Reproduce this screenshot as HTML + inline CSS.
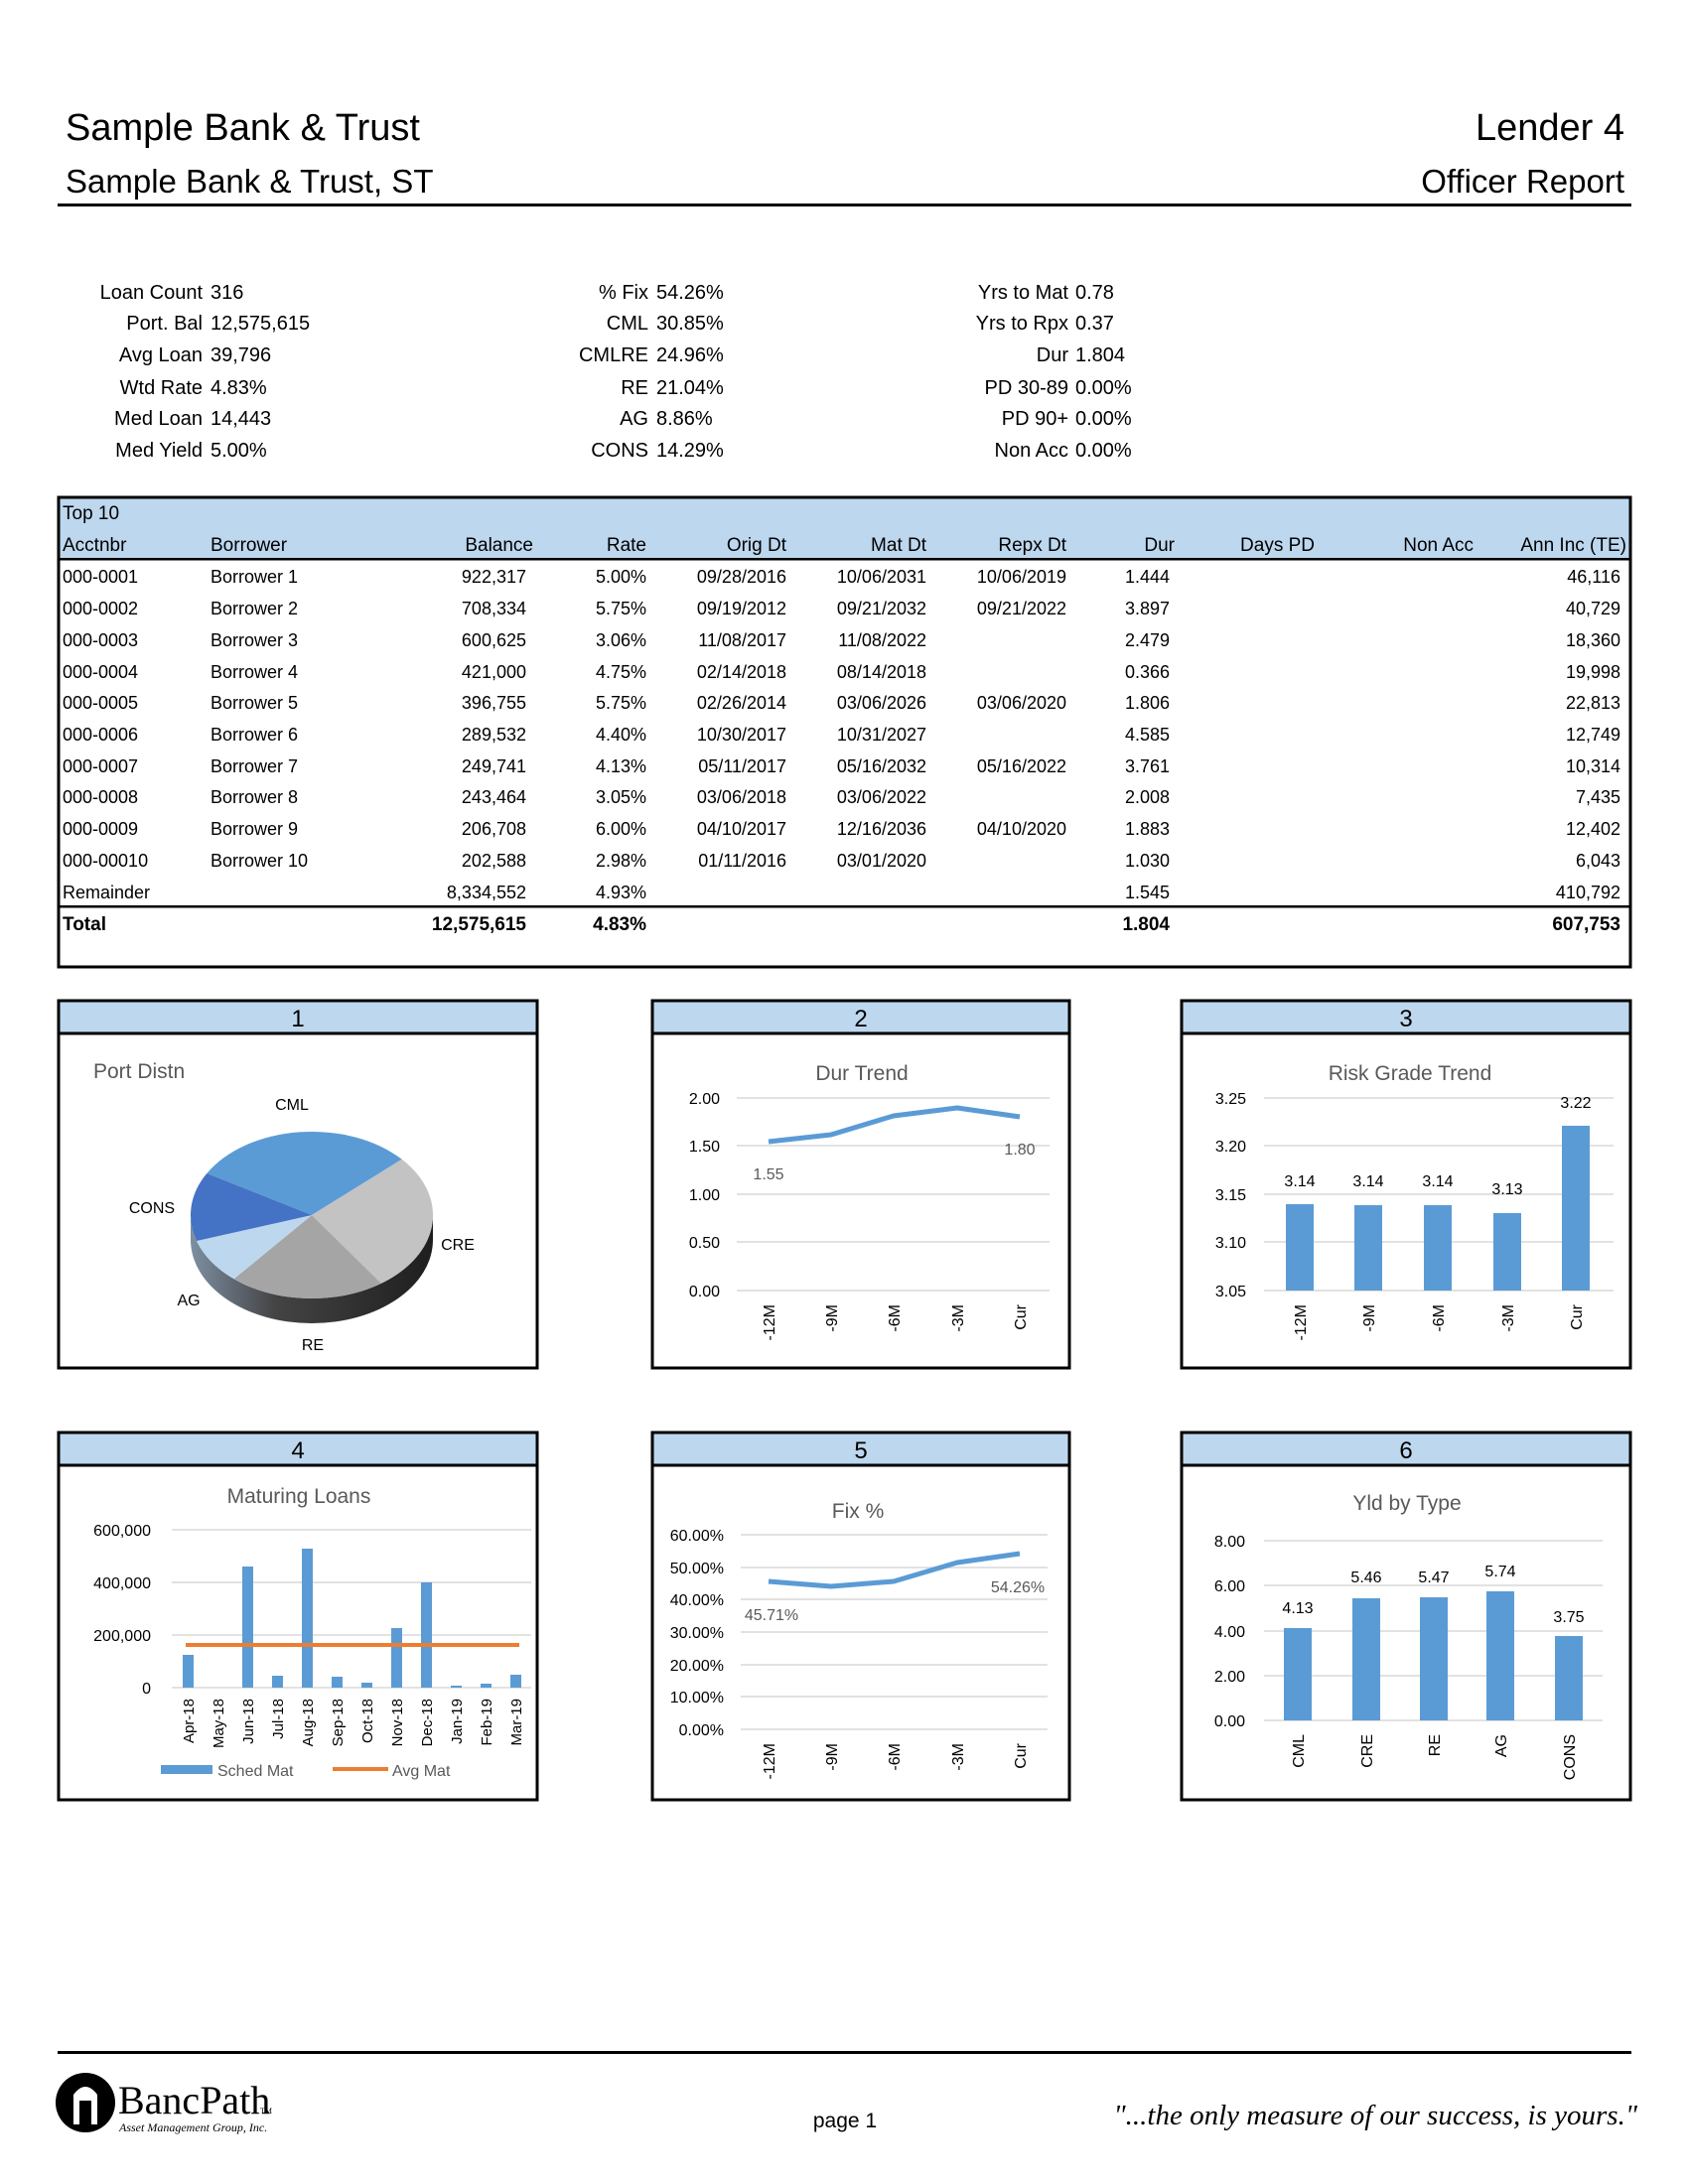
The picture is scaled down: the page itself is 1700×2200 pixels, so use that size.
<!DOCTYPE html>
<html><head><meta charset="utf-8"><style>
html,body{margin:0;padding:0;background:#fff}
svg{display:block}
text{font-family:"Liberation Sans",Arial,sans-serif;fill:#000}
.s{font-size:20px}
.t{font-size:19px}
.ax{font-size:16px;fill:#595959}
.ct{font-size:21px;fill:#595959}
.g{stroke:#d9d9d9;stroke-width:1.5}
</style></head><body>
<svg width="1700" height="2200" viewBox="0 0 1700 2200" xmlns="http://www.w3.org/2000/svg">
<!-- Header -->
<text x="66" y="141" style="font-size:38px">Sample Bank &amp; Trust</text>
<text x="66" y="194" style="font-size:33px">Sample Bank &amp; Trust, ST</text>
<text x="1636" y="141" text-anchor="end" style="font-size:38px">Lender 4</text>
<text x="1636" y="194" text-anchor="end" style="font-size:33px">Officer Report</text>
<rect x="58" y="205" width="1585" height="3" fill="#000"/>

<!-- Stats -->
<g class="s">
<text x="204" y="301" text-anchor="end">Loan Count</text><text x="212" y="301">316</text>
<text x="204" y="332" text-anchor="end">Port. Bal</text><text x="212" y="332">12,575,615</text>
<text x="204" y="364" text-anchor="end">Avg Loan</text><text x="212" y="364">39,796</text>
<text x="204" y="397" text-anchor="end">Wtd Rate</text><text x="212" y="397">4.83%</text>
<text x="204" y="428" text-anchor="end">Med Loan</text><text x="212" y="428">14,443</text>
<text x="204" y="460" text-anchor="end">Med Yield</text><text x="212" y="460">5.00%</text>

<text x="653" y="301" text-anchor="end">% Fix</text><text x="661" y="301">54.26%</text>
<text x="653" y="332" text-anchor="end">CML</text><text x="661" y="332">30.85%</text>
<text x="653" y="364" text-anchor="end">CMLRE</text><text x="661" y="364">24.96%</text>
<text x="653" y="397" text-anchor="end">RE</text><text x="661" y="397">21.04%</text>
<text x="653" y="428" text-anchor="end">AG</text><text x="661" y="428">8.86%</text>
<text x="653" y="460" text-anchor="end">CONS</text><text x="661" y="460">14.29%</text>

<text x="1076" y="301" text-anchor="end">Yrs to Mat</text><text x="1083" y="301">0.78</text>
<text x="1076" y="332" text-anchor="end">Yrs to Rpx</text><text x="1083" y="332">0.37</text>
<text x="1076" y="364" text-anchor="end">Dur</text><text x="1083" y="364">1.804</text>
<text x="1076" y="397" text-anchor="end">PD 30-89</text><text x="1083" y="397">0.00%</text>
<text x="1076" y="428" text-anchor="end">PD 90+</text><text x="1083" y="428">0.00%</text>
<text x="1076" y="460" text-anchor="end">Non Acc</text><text x="1083" y="460">0.00%</text>
</g>

<!-- Table -->
<rect x="59" y="501" width="1583" height="473" fill="none" stroke="#000" stroke-width="3"/>
<rect x="60.5" y="502.5" width="1580" height="60" fill="#bdd7ee"/>
<rect x="59" y="562" width="1584" height="2.5" fill="#000"/>
<rect x="59" y="912" width="1584" height="2.5" fill="#000"/>
<g class="t">
<text x="63" y="523">Top 10</text>
<text x="63" y="555">Acctnbr</text><text x="212" y="555">Borrower</text>
<text x="537" y="555" text-anchor="end">Balance</text><text x="651" y="555" text-anchor="end">Rate</text>
<text x="792" y="555" text-anchor="end">Orig Dt</text><text x="933" y="555" text-anchor="end">Mat Dt</text>
<text x="1074" y="555" text-anchor="end">Repx Dt</text><text x="1183" y="555" text-anchor="end">Dur</text>
<text x="1324" y="555" text-anchor="end">Days PD</text><text x="1484" y="555" text-anchor="end">Non Acc</text>
<text x="1638" y="555" text-anchor="end">Ann Inc (TE)</text>
</g>
<g style="font-size:18px">
<g transform="translate(0,587)">
<text x="63">000-0001</text><text x="212">Borrower 1</text><text x="530" text-anchor="end">922,317</text><text x="651" text-anchor="end">5.00%</text><text x="792" text-anchor="end">09/28/2016</text><text x="933" text-anchor="end">10/06/2031</text><text x="1074" text-anchor="end">10/06/2019</text><text x="1178" text-anchor="end">1.444</text><text x="1632" text-anchor="end">46,116</text></g>
<g transform="translate(0,619)">
<text x="63">000-0002</text><text x="212">Borrower 2</text><text x="530" text-anchor="end">708,334</text><text x="651" text-anchor="end">5.75%</text><text x="792" text-anchor="end">09/19/2012</text><text x="933" text-anchor="end">09/21/2032</text><text x="1074" text-anchor="end">09/21/2022</text><text x="1178" text-anchor="end">3.897</text><text x="1632" text-anchor="end">40,729</text></g>
<g transform="translate(0,651)">
<text x="63">000-0003</text><text x="212">Borrower 3</text><text x="530" text-anchor="end">600,625</text><text x="651" text-anchor="end">3.06%</text><text x="792" text-anchor="end">11/08/2017</text><text x="933" text-anchor="end">11/08/2022</text><text x="1178" text-anchor="end">2.479</text><text x="1632" text-anchor="end">18,360</text></g>
<g transform="translate(0,683)">
<text x="63">000-0004</text><text x="212">Borrower 4</text><text x="530" text-anchor="end">421,000</text><text x="651" text-anchor="end">4.75%</text><text x="792" text-anchor="end">02/14/2018</text><text x="933" text-anchor="end">08/14/2018</text><text x="1178" text-anchor="end">0.366</text><text x="1632" text-anchor="end">19,998</text></g>
<g transform="translate(0,714)">
<text x="63">000-0005</text><text x="212">Borrower 5</text><text x="530" text-anchor="end">396,755</text><text x="651" text-anchor="end">5.75%</text><text x="792" text-anchor="end">02/26/2014</text><text x="933" text-anchor="end">03/06/2026</text><text x="1074" text-anchor="end">03/06/2020</text><text x="1178" text-anchor="end">1.806</text><text x="1632" text-anchor="end">22,813</text></g>
<g transform="translate(0,746)">
<text x="63">000-0006</text><text x="212">Borrower 6</text><text x="530" text-anchor="end">289,532</text><text x="651" text-anchor="end">4.40%</text><text x="792" text-anchor="end">10/30/2017</text><text x="933" text-anchor="end">10/31/2027</text><text x="1178" text-anchor="end">4.585</text><text x="1632" text-anchor="end">12,749</text></g>
<g transform="translate(0,778)">
<text x="63">000-0007</text><text x="212">Borrower 7</text><text x="530" text-anchor="end">249,741</text><text x="651" text-anchor="end">4.13%</text><text x="792" text-anchor="end">05/11/2017</text><text x="933" text-anchor="end">05/16/2032</text><text x="1074" text-anchor="end">05/16/2022</text><text x="1178" text-anchor="end">3.761</text><text x="1632" text-anchor="end">10,314</text></g>
<g transform="translate(0,809)">
<text x="63">000-0008</text><text x="212">Borrower 8</text><text x="530" text-anchor="end">243,464</text><text x="651" text-anchor="end">3.05%</text><text x="792" text-anchor="end">03/06/2018</text><text x="933" text-anchor="end">03/06/2022</text><text x="1178" text-anchor="end">2.008</text><text x="1632" text-anchor="end">7,435</text></g>
<g transform="translate(0,841)">
<text x="63">000-0009</text><text x="212">Borrower 9</text><text x="530" text-anchor="end">206,708</text><text x="651" text-anchor="end">6.00%</text><text x="792" text-anchor="end">04/10/2017</text><text x="933" text-anchor="end">12/16/2036</text><text x="1074" text-anchor="end">04/10/2020</text><text x="1178" text-anchor="end">1.883</text><text x="1632" text-anchor="end">12,402</text></g>
<g transform="translate(0,873)">
<text x="63">000-00010</text><text x="212">Borrower 10</text><text x="530" text-anchor="end">202,588</text><text x="651" text-anchor="end">2.98%</text><text x="792" text-anchor="end">01/11/2016</text><text x="933" text-anchor="end">03/01/2020</text><text x="1178" text-anchor="end">1.030</text><text x="1632" text-anchor="end">6,043</text></g>
<g transform="translate(0,905)">
<text x="63">Remainder</text><text x="530" text-anchor="end">8,334,552</text><text x="651" text-anchor="end">4.93%</text><text x="1178" text-anchor="end">1.545</text><text x="1632" text-anchor="end">410,792</text></g>
<g transform="translate(0,937)" style="font-weight:bold;font-size:19px">
<text x="63">Total</text><text x="530" text-anchor="end">12,575,615</text><text x="651" text-anchor="end">4.83%</text><text x="1178" text-anchor="end">1.804</text><text x="1632" text-anchor="end">607,753</text></g>
</g>

<!-- Panels -->
<g fill="#bdd7ee" stroke="#000" stroke-width="3">
<rect x="59" y="1008" width="482" height="370" fill="none"/><rect x="59" y="1008" width="482" height="33"/>
<rect x="657" y="1008" width="420" height="370" fill="none"/><rect x="657" y="1008" width="420" height="33"/>
<rect x="1190" y="1008" width="452" height="370" fill="none"/><rect x="1190" y="1008" width="452" height="33"/>
<rect x="59" y="1443" width="482" height="370" fill="none"/><rect x="59" y="1443" width="482" height="33"/>
<rect x="657" y="1443" width="420" height="370" fill="none"/><rect x="657" y="1443" width="420" height="33"/>
<rect x="1190" y="1443" width="452" height="370" fill="none"/><rect x="1190" y="1443" width="452" height="33"/>
</g>
<g style="font-size:24px" text-anchor="middle">
<text x="300" y="1034">1</text><text x="867" y="1034">2</text><text x="1416" y="1034">3</text>
<text x="300" y="1469">4</text><text x="867" y="1469">5</text><text x="1416" y="1469">6</text>
</g>

<!-- Chart 1 pie -->
<text x="94" y="1086" class="ct">Port Distn</text>
<defs>
<linearGradient id="side" x1="0" x2="1" y1="0" y2="0">
<stop offset="0" stop-color="#7d8fa3"/><stop offset="0.35" stop-color="#444"/><stop offset="1" stop-color="#1e1e1e"/>
</linearGradient>
</defs>
<path d="M192,1224 L192,1249 A122,84 0 0 0 436,1249 L436,1224 A122,84 0 0 1 192,1224 Z" fill="url(#side)"/>
<!-- top slices: center 314,1224 rx122 ry84 -->
<path d="M314,1224 L208.3,1182 A122,84 0 0 1 404.7,1167.8 Z" fill="#5b9bd5"/>
<path d="M314,1224 L404.7,1167.8 A122,84 0 0 1 384,1292.8 Z" fill="#c3c3c3"/>
<path d="M314,1224 L384,1292.8 A122,84 0 0 1 235.6,1288.3 Z" fill="#a5a5a5"/>
<path d="M314,1224 L235.6,1288.3 A122,84 0 0 1 198,1250 Z" fill="#bdd7ee"/>
<path d="M314,1224 L198,1250 A122,84 0 0 1 208.3,1182 Z" fill="#4472c4"/>
<g class="ax" style="font-size:16px" text-anchor="middle">
<text x="294" y="1118">CML</text><text x="153" y="1222">CONS</text><text x="461" y="1259">CRE</text>
<text x="190" y="1315">AG</text><text x="315" y="1360">RE</text>
</g>

<!-- Chart 2 Dur Trend -->
<text x="868" y="1088" class="ct" text-anchor="middle">Dur Trend</text>
<g class="g"><line x1="742" x2="1057" y1="1106" y2="1106"/><line x1="742" x2="1057" y1="1154" y2="1154"/><line x1="742" x2="1057" y1="1203" y2="1203"/><line x1="742" x2="1057" y1="1251" y2="1251"/><line x1="742" x2="1057" y1="1300" y2="1300"/></g>
<g class="ax" text-anchor="end"><text x="725" y="1112">2.00</text><text x="725" y="1160">1.50</text><text x="725" y="1209">1.00</text><text x="725" y="1257">0.50</text><text x="725" y="1306">0.00</text></g>
<polyline points="774,1150 837,1143 900,1124 964,1116 1027,1125" fill="none" stroke="#5b9bd5" stroke-width="5" stroke-linejoin="round"/>
<text x="774" y="1188" class="ax" text-anchor="middle">1.55</text><text x="1027" y="1163" class="ax" text-anchor="middle">1.80</text>
<g class="ax" text-anchor="end">
<text transform="translate(780,1314) rotate(-90)">-12M</text><text transform="translate(843,1314) rotate(-90)">-9M</text><text transform="translate(906,1314) rotate(-90)">-6M</text><text transform="translate(970,1314) rotate(-90)">-3M</text><text transform="translate(1033,1314) rotate(-90)">Cur</text>
</g>

<!-- Chart 3 Risk Grade -->
<text x="1420" y="1088" class="ct" text-anchor="middle">Risk Grade Trend</text>
<g class="g"><line x1="1273" x2="1625" y1="1106" y2="1106"/><line x1="1273" x2="1625" y1="1154" y2="1154"/><line x1="1273" x2="1625" y1="1203" y2="1203"/><line x1="1273" x2="1625" y1="1251" y2="1251"/><line x1="1273" x2="1625" y1="1300" y2="1300"/></g>
<g class="ax" text-anchor="end"><text x="1255" y="1112">3.25</text><text x="1255" y="1160">3.20</text><text x="1255" y="1209">3.15</text><text x="1255" y="1257">3.10</text><text x="1255" y="1306">3.05</text></g>
<g fill="#5b9bd5"><rect x="1295" y="1213" width="28" height="87"/><rect x="1364" y="1214" width="28" height="86"/><rect x="1434" y="1214" width="28" height="86"/><rect x="1504" y="1222" width="28" height="78"/><rect x="1573" y="1134" width="28" height="166"/></g>
<g class="ax" text-anchor="middle"><text x="1309" y="1195">3.14</text><text x="1378" y="1195">3.14</text><text x="1448" y="1195">3.14</text><text x="1518" y="1203">3.13</text><text x="1587" y="1116">3.22</text></g>
<g class="ax" text-anchor="end">
<text transform="translate(1315,1314) rotate(-90)">-12M</text><text transform="translate(1384,1314) rotate(-90)">-9M</text><text transform="translate(1454,1314) rotate(-90)">-6M</text><text transform="translate(1524,1314) rotate(-90)">-3M</text><text transform="translate(1593,1314) rotate(-90)">Cur</text>
</g>

<!-- Chart 4 Maturing Loans -->
<text x="301" y="1514" class="ct" text-anchor="middle">Maturing Loans</text>
<g class="g"><line x1="173" x2="535" y1="1541" y2="1541"/><line x1="173" x2="535" y1="1594" y2="1594"/><line x1="173" x2="535" y1="1647" y2="1647"/><line x1="173" x2="535" y1="1700" y2="1700"/></g>
<g class="ax" text-anchor="end"><text x="152" y="1547">600,000</text><text x="152" y="1600">400,000</text><text x="152" y="1653">200,000</text><text x="152" y="1706">0</text></g>
<g fill="#5b9bd5">
<rect x="184" y="1667" width="11" height="33"/>
<rect x="244" y="1578" width="11" height="122"/>
<rect x="274" y="1688" width="11" height="12"/>
<rect x="304" y="1560" width="11" height="140"/>
<rect x="334" y="1689" width="11" height="11"/>
<rect x="364" y="1695" width="11" height="5"/>
<rect x="394" y="1640" width="11" height="60"/>
<rect x="424" y="1594" width="11" height="106"/>
<rect x="454" y="1698" width="11" height="2"/>
<rect x="484" y="1696" width="11" height="4"/>
<rect x="514" y="1687" width="11" height="13"/>
</g>
<line x1="187" x2="523" y1="1657" y2="1657" stroke="#ed7d31" stroke-width="4"/>
<g class="ax" text-anchor="end" style="font-size:15px">
<text transform="translate(195,1711) rotate(-90)">Apr-18</text><text transform="translate(225,1711) rotate(-90)">May-18</text><text transform="translate(255,1711) rotate(-90)">Jun-18</text><text transform="translate(285,1711) rotate(-90)">Jul-18</text><text transform="translate(315,1711) rotate(-90)">Aug-18</text><text transform="translate(345,1711) rotate(-90)">Sep-18</text><text transform="translate(375,1711) rotate(-90)">Oct-18</text><text transform="translate(405,1711) rotate(-90)">Nov-18</text><text transform="translate(435,1711) rotate(-90)">Dec-18</text><text transform="translate(465,1711) rotate(-90)">Jan-19</text><text transform="translate(495,1711) rotate(-90)">Feb-19</text><text transform="translate(525,1711) rotate(-90)">Mar-19</text>
</g>
<rect x="162" y="1778" width="52" height="9" fill="#5b9bd5"/><text x="219" y="1789" class="ax">Sched Mat</text>
<line x1="335" x2="391" y1="1782" y2="1782" stroke="#ed7d31" stroke-width="4"/><text x="395" y="1789" class="ax">Avg Mat</text>

<!-- Chart 5 Fix % -->
<text x="864" y="1529" class="ct" text-anchor="middle">Fix %</text>
<g class="g"><line x1="746" x2="1055" y1="1546" y2="1546"/><line x1="746" x2="1055" y1="1579" y2="1579"/><line x1="746" x2="1055" y1="1611" y2="1611"/><line x1="746" x2="1055" y1="1644" y2="1644"/><line x1="746" x2="1055" y1="1677" y2="1677"/><line x1="746" x2="1055" y1="1709" y2="1709"/><line x1="746" x2="1055" y1="1742" y2="1742"/></g>
<g class="ax" text-anchor="end"><text x="729" y="1552">60.00%</text><text x="729" y="1585">50.00%</text><text x="729" y="1617">40.00%</text><text x="729" y="1650">30.00%</text><text x="729" y="1683">20.00%</text><text x="729" y="1715">10.00%</text><text x="729" y="1748">0.00%</text></g>
<polyline points="774,1593 837,1598 900,1593 964,1574 1027,1565" fill="none" stroke="#5b9bd5" stroke-width="5" stroke-linejoin="round"/>
<text x="777" y="1632" class="ax" text-anchor="middle">45.71%</text><text x="1025" y="1604" class="ax" text-anchor="middle">54.26%</text>
<g class="ax" text-anchor="end">
<text transform="translate(780,1756) rotate(-90)">-12M</text><text transform="translate(843,1756) rotate(-90)">-9M</text><text transform="translate(906,1756) rotate(-90)">-6M</text><text transform="translate(970,1756) rotate(-90)">-3M</text><text transform="translate(1033,1756) rotate(-90)">Cur</text>
</g>

<!-- Chart 6 Yld by Type -->
<text x="1417" y="1521" class="ct" text-anchor="middle">Yld by Type</text>
<g class="g"><line x1="1273" x2="1614" y1="1552" y2="1552"/><line x1="1273" x2="1614" y1="1597" y2="1597"/><line x1="1273" x2="1614" y1="1643" y2="1643"/><line x1="1273" x2="1614" y1="1688" y2="1688"/><line x1="1273" x2="1614" y1="1733" y2="1733"/></g>
<g class="ax" text-anchor="end"><text x="1254" y="1558">8.00</text><text x="1254" y="1603">6.00</text><text x="1254" y="1649">4.00</text><text x="1254" y="1694">2.00</text><text x="1254" y="1739">0.00</text></g>
<g fill="#5b9bd5"><rect x="1293" y="1640" width="28" height="93"/><rect x="1362" y="1610" width="28" height="123"/><rect x="1430" y="1609" width="28" height="124"/><rect x="1497" y="1603" width="28" height="130"/><rect x="1566" y="1648" width="28" height="85"/></g>
<g class="ax" text-anchor="middle"><text x="1307" y="1625">4.13</text><text x="1376" y="1594">5.46</text><text x="1444" y="1594">5.47</text><text x="1511" y="1588">5.74</text><text x="1580" y="1634">3.75</text></g>
<g class="ax" text-anchor="end">
<text transform="translate(1313,1747) rotate(-90)">CML</text><text transform="translate(1382,1747) rotate(-90)">CRE</text><text transform="translate(1450,1747) rotate(-90)">RE</text><text transform="translate(1517,1747) rotate(-90)">AG</text><text transform="translate(1586,1747) rotate(-90)">CONS</text>
</g>

<!-- Footer -->
<rect x="58" y="2066" width="1585" height="3" fill="#000"/>
<circle cx="86" cy="2118" r="30" fill="#000"/>
<path d="M74,2140 L74,2110 Q86,2094 98,2110 L98,2140 Z" fill="#fff"/>
<rect x="80" y="2116" width="12" height="24" fill="#000"/>
<text x="119" y="2129" style="font-family:'Liberation Serif',serif;font-size:40px">BancPath</text>
<text x="262" y="2129" style="font-family:'Liberation Serif',serif;font-size:8px">TM</text>
<text x="120" y="2147" style="font-family:'Liberation Serif',serif;font-size:12px;font-style:italic">Asset Management Group, Inc.</text>
<text x="851" y="2143" text-anchor="middle" style="font-size:21px">page 1</text>
<text x="1649" y="2140" text-anchor="end" style="font-family:'Liberation Serif',serif;font-size:29px;font-style:italic">"...the only measure of our success, is yours."</text>
</svg>
</body></html>
